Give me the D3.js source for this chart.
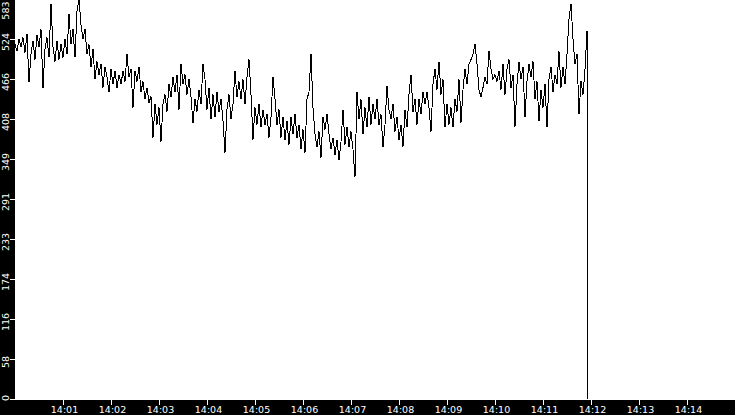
<!DOCTYPE html>
<html>
<head>
<meta charset="utf-8">
<script src="https://cdn.jsdelivr.net/npm/d3@7"></script>
<style>
  html, body { margin: 0; padding: 0; background: #fff; }
  svg { display: block; }
  text { font-family: "DejaVu Sans", sans-serif; }
</style>
</head>
<body>
<svg id="chart" width="735" height="415"></svg>
<script>
// ---- data ----
const startTime = "14:00:00";
const stepSeconds = 2.5;
const values = [
  517,507,525,513,527,505,532,462,503,522,495,530,513,539,453,510,527,498,576,513,
  492,522,495,517,498,525,503,561,517,539,498,565,583,546,525,539,503,517,484,510,
  466,492,473,488,454,484,469,447,481,459,478,454,473,459,478,463,503,469,481,425,
  478,463,484,448,463,437,454,432,441,381,430,400,425,375,430,444,419,459,440,469,
  448,473,422,488,459,473,444,466,440,402,437,419,451,430,489,466,422,454,408,444,
  411,448,419,437,405,359,422,444,408,430,478,440,463,437,466,430,469,495,444,378,
  425,400,430,396,422,400,415,381,411,470,437,400,422,381,411,378,405,371,411,386,
  415,381,400,364,393,359,437,448,503,425,386,367,390,352,411,393,415,386,364,381,
  356,378,349,375,422,371,396,367,390,364,323,448,408,437,386,425,396,440,400,430,
  408,437,400,415,367,400,456,422,408,430,390,411,378,400,368,422,396,444,473,419,
  437,400,437,415,448,430,448,425,390,459,481,451,492,444,466,396,430,400,425,396,
  437,419,466,403,451,481,459,488,495,503,517,488,451,440,454,469,459,507,481,466,
  473,463,478,451,488,444,481,495,454,473,397,459,492,466,484,411,463,488,469,492,
  437,463,405,451,425,459,396,466,484,448,473,459,507,454,484,459,503,554,576,525,
  488,503,415,463,444,481,536
];
const tailTimes = ["14:11:55.6", "14:11:56.2"];
const tailValues = [267, 0];
const xDomain = ["14:00:00", "14:15:00"];
const xTickTimes = ["14:01","14:02","14:03","14:04","14:05","14:06","14:07","14:08","14:09","14:10","14:11","14:12","14:13","14:14"];
const yMax = 583.2;
const yTickValues = [0, 58.32, 116.64, 174.96, 233.28, 291.6, 349.92, 408.24, 466.56, 524.88, 583.2];

// ---- helpers ----
const day = "2024-01-01T";
const parseT = s => new Date(day + (s.length === 5 ? s + ":00" : s));
const t0 = parseT(startTime);
const points = values.map((v, i) => ({ t: new Date(t0.getTime() + i * stepSeconds * 1000), v }));
tailTimes.forEach((s, i) => points.push({ t: parseT(s), v: tailValues[i] }));

// ---- layout ----
const W = 735, H = 415;
const left = 15, bottom = 400;
const svg = d3.select("#chart");

const x = d3.scaleTime().domain(xDomain.map(parseT)).range([left, W]);
const y = d3.scaleLinear().domain([0, yMax]).range([399, -1]);

// black axis strips
svg.append("rect").attr("x", 0).attr("y", 0).attr("width", left).attr("height", H).attr("fill", "#000");
svg.append("rect").attr("x", 0).attr("y", bottom).attr("width", W).attr("height", H - bottom).attr("fill", "#000");

// line
const line = d3.line().x(d => x(d.t)).y(d => y(d.v));
svg.append("path")
  .datum(points)
  .attr("d", line)
  .attr("fill", "none")
  .attr("stroke", "#000")
  .attr("stroke-width", 1)
  .attr("shape-rendering", "crispEdges");

// x axis
const xAxis = d3.axisBottom(x)
  .tickValues(xTickTimes.map(parseT))
  .tickFormat(d3.timeFormat("%H:%M"))
  .tickSize(5)
  .tickPadding(1);
const gx = svg.append("g").attr("transform", `translate(0,${bottom})`).call(xAxis);
gx.select(".domain").remove();
gx.selectAll(".tick line").attr("stroke", "#fff").attr("shape-rendering", "crispEdges");
gx.selectAll(".tick text")
  .attr("fill", "#fff")
  .attr("font-size", "9.5px")
  .attr("font-family", "DejaVu Sans")
  .attr("dx", "1");

// y axis
const yAxis = d3.axisLeft(y)
  .tickValues(yTickValues)
  .tickFormat(d => String(Math.floor(d + 1e-9)))
  .tickSize(5);
const gy = svg.append("g").attr("transform", `translate(${left},0)`).call(yAxis);
gy.select(".domain").remove();
gy.selectAll(".tick line").attr("stroke", "#fff").attr("shape-rendering", "crispEdges");
gy.selectAll(".tick text").each(function(d, i, nodes) {
  const t = d3.select(this);
  t.attr("x", null).attr("dy", null);
  let anchor = "middle", off = 2.5;
  if (i === nodes.length - 1) { anchor = "end"; }
  if (i === 0) { anchor = "start"; }
  const ty = y(d);
  const yy = i === nodes.length - 1 ? -ty + 1 : (i === 0 ? 400.5 - ty : off);
  t.attr("text-anchor", anchor)
   .attr("fill", "#fff")
   .attr("font-size", "9.5px")
   .attr("font-family", "DejaVu Sans")
   .attr("transform", `translate(-6,${yy}) rotate(-90)`)
   .attr("x", 0).attr("y", 0);
});
</script>
</body>
</html>
